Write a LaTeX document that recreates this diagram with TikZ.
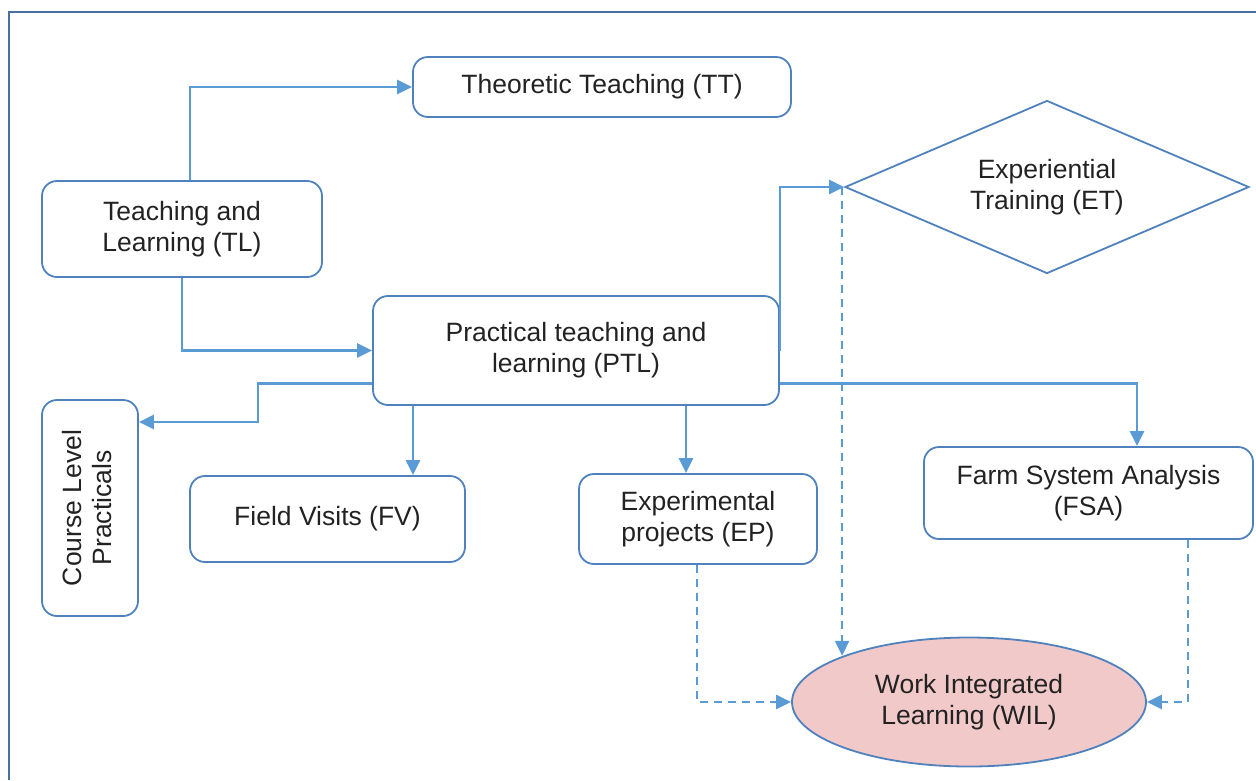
\documentclass[tikz,border=0pt]{standalone}
\usepackage{fontspec}
\setmainfont{Liberation Sans}
\usepackage{graphicx}
\usetikzlibrary{shapes.geometric,arrows.meta}
\definecolor{boxline}{HTML}{4F81BD}
\definecolor{connline}{HTML}{5B9BD5}
\definecolor{frameline}{HTML}{4A6F9E}
\definecolor{wilfill}{HTML}{F2C9C9}
\definecolor{txt}{HTML}{222222}
\begin{document}
\begin{tikzpicture}[x=1pt,y=-1pt,
  every node/.style={font=\fontsize{26.5}{31}\selectfont, text=txt, align=center},
  stepbox/.style={draw=boxline, line width=1.8pt, rounded corners=15pt, inner sep=0pt},
  conn/.style={draw=connline, line width=2.4pt, -{Triangle[length=15pt,width=14pt]}},
  dconn/.style={conn, dash pattern=on 8pt off 6pt}
]
\useasboundingbox (0,0) rectangle (1256,780);
% outer frame (top and left only visible)
\draw[frameline, line width=2.2pt] (9,780) -- (9,12) -- (1256,12);

\node[stepbox, minimum width=378pt, minimum height=60pt] (TT) at (602,87) {Theoretic Teaching (TT)};
\node[stepbox, minimum width=280pt, minimum height=96pt] (TL) at (182,229) {Teaching and\\Learning (TL)};
\node[stepbox, minimum width=406pt, minimum height=109pt] (PTL) at (576,350.5) {Practical teaching and\\learning (PTL)};
\node[stepbox, minimum width=96pt, minimum height=216pt] (CLP) at (90,508)
  {\rotatebox{90}{\begin{tabular}{@{}c@{}}Course Level\\[-1pt]Practicals\end{tabular}}};
\node[stepbox, minimum width=275pt, minimum height=86pt] (FV) at (327.5,519) {Field Visits (FV)};
\node[stepbox, minimum width=238pt, minimum height=90pt] (EP) at (698,519) {Experimental\\projects (EP)};
\node[stepbox, minimum width=329pt, minimum height=92pt] (FSA) at (1088.5,493) {Farm System Analysis\\(FSA)};
\node[diamond, aspect=2.335, draw=boxline, line width=1.8pt, inner sep=0pt, minimum width=404pt, minimum height=173pt] (ET) at (1047,187) {Experiential\\Training (ET)};
\node[ellipse, draw=boxline, fill=wilfill, line width=1.8pt, inner sep=0pt, minimum width=354pt, minimum height=129pt] (WIL) at (969,702) {Work Integrated\\Learning (WIL)};

\coordinate (k1) at (258,422);

\draw[conn] ([xshift=8pt]TL.north) |- (TT.west);
\draw[conn] (TL.south) |- (PTL.west);
\draw[conn] (PTL.east) |- (ET.west);
\draw[conn] ([yshift=-33pt]PTL.west) -| (k1) |- ([yshift=86pt]CLP.east);
\draw[conn] ([xshift=-163pt]PTL.south) -- ([xshift=-163pt]PTL.south |- FV.north);
\draw[conn] ([xshift=110pt]PTL.south) -- ([xshift=110pt]PTL.south |- EP.north);
\draw[conn] ([yshift=-33pt]PTL.east) -| ([xshift=48.5pt]FSA.north);

\draw[dconn] ([xshift=-2pt]ET.west) -- ([xshift=-2pt]ET.west |- WIL.north west);
\draw[dconn] ([xshift=-1pt]EP.south) |- (WIL.west);
\draw[dconn] ([xshift=99.5pt]FSA.south) |- (WIL.east);
\end{tikzpicture}
\end{document}
